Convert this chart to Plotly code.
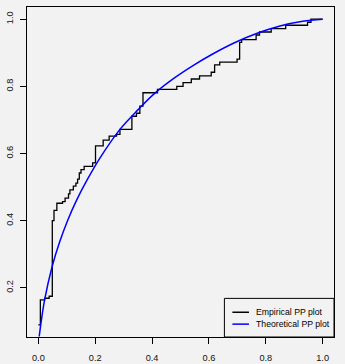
import plotly.graph_objects as go

# Empirical PP plot (step function)
emp_x = [0.0, 0.007, 0.022, 0.038, 0.049, 0.055, 0.065, 0.085, 0.094, 0.106, 0.111, 0.123,
         0.132, 0.138, 0.144, 0.150, 0.161, 0.191, 0.201, 0.228, 0.249, 0.275, 0.287, 0.329,
         0.345, 0.357, 0.368, 0.419, 0.487, 0.509, 0.538, 0.567, 0.608, 0.620, 0.638, 0.699,
         0.708, 0.715, 0.766, 0.778, 0.819, 0.870, 0.947, 0.959, 1.0]
emp_y = [0.09, 0.164, 0.169, 0.175, 0.40, 0.431, 0.452, 0.457, 0.467, 0.480, 0.492, 0.503,
         0.512, 0.524, 0.542, 0.552, 0.562, 0.572, 0.623, 0.640, 0.652, 0.657, 0.672, 0.711,
         0.720, 0.741, 0.781, 0.791, 0.800, 0.811, 0.822, 0.831, 0.842, 0.864, 0.872, 0.881,
         0.931, 0.939, 0.953, 0.962, 0.972, 0.982, 0.991, 1.0, 1.0]

# Theoretical PP plot (smooth curve)
theo_x = [0.003, 0.01, 0.022, 0.048, 0.075, 0.104, 0.135, 0.172, 0.217, 0.287, 0.35, 0.41,
          0.48, 0.544, 0.61, 0.69, 0.77, 0.85, 0.93, 1.0]
theo_y = [0.055, 0.10, 0.164, 0.262, 0.337, 0.403, 0.462, 0.522, 0.587, 0.672, 0.730, 0.780,
          0.826, 0.862, 0.895, 0.930, 0.958, 0.980, 0.994, 1.0]

x_ticks = [0.0, 0.2, 0.4, 0.6, 0.8, 1.0]
x_tick_labels = ["0.0", "0.2", "0.4", "0.6", "0.8", "1.0"]
y_ticks = [0.2, 0.4, 0.6, 0.8, 1.0]
y_tick_labels = ["0.2", "0.4", "0.6", "0.8", "1.0"]
legend_labels = ["Empirical PP plot", "Theoretical PP plot"]

BG = "#f2f2f2"
FONT = "Liberation Sans, Arial, sans-serif"

fig = go.Figure()
fig.add_trace(go.Scatter(x=emp_x, y=emp_y, mode="lines", line=dict(color="black", width=1.3, shape="hv"),
                         name=legend_labels[0], showlegend=False))
fig.add_trace(go.Scatter(x=theo_x, y=theo_y, mode="lines", line=dict(color="#0000ff", width=1.5, shape="spline"),
                         name=legend_labels[1], showlegend=False))

# Manual legend (R-style box)
lx0, lx1, ly0, ly1 = 0.643, 1.0, 0.0, 0.117
fig.add_shape(type="rect", xref="paper", yref="paper", x0=lx0, x1=lx1, y0=ly0, y1=ly1,
              line=dict(color="black", width=1), fillcolor=BG, layer="above")
rows_y = [0.075, 0.039]
colors = ["black", "#0000ff"]
for ry, c, lab in zip(rows_y, colors, legend_labels):
    fig.add_shape(type="line", xref="paper", yref="paper", x0=0.669, x1=0.723, y0=ry, y1=ry,
                  line=dict(color=c, width=1.5), layer="above")
    fig.add_annotation(xref="paper", yref="paper", x=0.738, y=ry, text=lab, showarrow=False,
                       xanchor="left", yanchor="middle", font=dict(family=FONT, size=8.7, color="black"))

axis_common = dict(showgrid=False, zeroline=False, showline=True, mirror=True, linecolor="black",
                   linewidth=1, ticks="outside", ticklen=6, tickcolor="black", tickwidth=1,
                   automargin=False,
                   tickfont=dict(family=FONT, size=9.2, color="#111"))
fig.update_xaxes(range=[-0.04, 1.04], tickvals=x_ticks, ticktext=x_tick_labels,
                 ticklabelstandoff=6, **axis_common)
fig.update_yaxes(range=[0.0536, 1.0364], tickvals=y_ticks, ticktext=y_tick_labels,
                 tickangle=-90, ticklabelstandoff=3, **axis_common)

fig.update_layout(width=345, height=364, margin=dict(l=27, r=11, t=7, b=27),
                  paper_bgcolor=BG, plot_bgcolor=BG, showlegend=False)

fig.write_html("out.html")
